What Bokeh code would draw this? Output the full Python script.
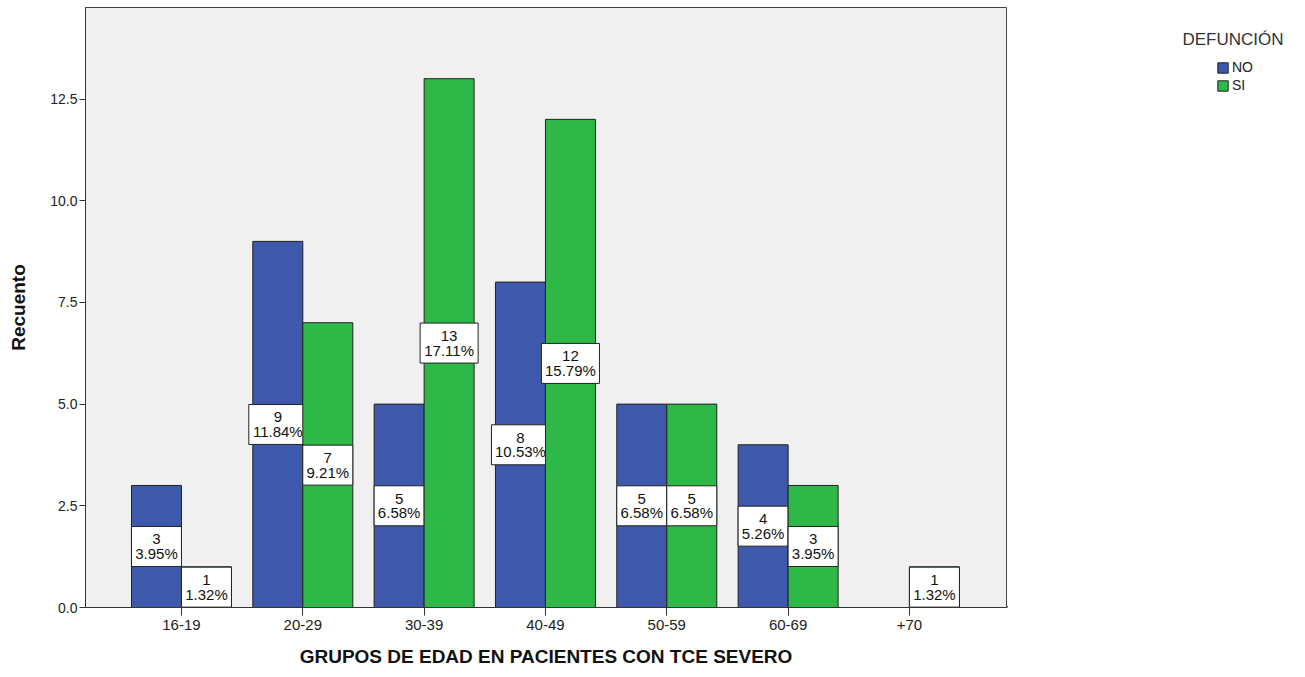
from bokeh.plotting import figure
from bokeh.layouts import row
from bokeh.models import (ColumnDataSource, FixedTicker, Legend, LegendItem, Label, Range1d)
from bokeh.core.properties import value
from bokeh.embed import file_html
from bokeh.resources import INLINE
import numpy as np

categories = ["16-19", "20-29", "30-39", "40-49", "50-59", "60-69", "+70"]
no_counts = [3, 9, 5, 8, 5, 4, 0]
si_counts = [1, 7, 13, 12, 5, 3, 1]
no_pct = ["3.95%", "11.84%", "6.58%", "10.53%", "6.58%", "5.26%", "0.00%"]
si_pct = ["1.32%", "9.21%", "17.11%", "15.79%", "6.58%", "3.95%", "1.32%"]
series_names = ["NO", "SI"]
colors = ["#3E58AC", "#2EB848"]
y_ticks = [0.0, 2.5, 5.0, 7.5, 10.0, 12.5]
legend_title = "DEFUNCIÓN"

FONT = "Liberation Sans"
BAR_W = 0.412
H = 669

p = figure(width=1007, height=H, output_backend="svg", toolbar_location=None,
           x_range=Range1d(-0.791, 6.80), y_range=Range1d(0, 14.75),
           min_border_left=85, min_border_right=1, min_border_top=7, min_border_bottom=60)
p.background_fill_color = "#F0F0F0"
p.border_fill_color = "white"
p.outline_line_color = "#444444"
p.outline_line_width = 1
p.xgrid.visible = False
p.ygrid.visible = False

idx = np.arange(len(categories))
for k, (counts, pcts) in enumerate([(no_counts, no_pct), (si_counts, si_pct)]):
    offs = -BAR_W / 2 if k == 0 else BAR_W / 2
    counts = np.array(counts)
    mask = counts > 0
    xs = (idx + offs)[mask]
    cs = counts[mask]
    ps = [pcts[i] for i in range(len(pcts)) if mask[i]]
    src = ColumnDataSource(dict(
        x=xs, top=cs, mid=cs / 2.0,
        cnt=[str(c) for c in cs], pct=ps,
        bw=[58 if len(s) >= 6 else 50 for s in ps],
    ))
    p.vbar(x="x", top="top", bottom=0, width=BAR_W, source=src,
           fill_color=colors[k], line_color="#222222", line_width=1)
    p.rect(x="x", y="mid", width="bw", height=40, width_units="screen", height_units="screen",
           source=src, fill_color="white", line_color="#222222", line_width=1)
    p.text(x="x", y="mid", text="cnt", source=src, y_offset=-7, text_align="center",
           text_baseline="middle", text_font=value(FONT), text_font_size="15px", text_color="#111111")
    p.text(x="x", y="mid", text="pct", source=src, y_offset=7, text_align="center",
           text_baseline="middle", text_font=value(FONT), text_font_size="15px", text_color="#111111")

# axes
p.xaxis.ticker = FixedTicker(ticks=list(range(len(categories))))
p.xaxis.major_label_overrides = {i: c for i, c in enumerate(categories)}
p.xaxis.minor_tick_line_color = None
p.xaxis.major_tick_out = 8
p.xaxis.major_tick_in = 0
p.xaxis.axis_line_color = "#333333"
p.xaxis.major_tick_line_color = "#333333"
p.xaxis.major_label_text_font = FONT
p.xaxis.major_label_text_font_size = "15px"
p.xaxis.major_label_text_color = "#222222"
p.xaxis.major_label_standoff = 4
p.xaxis.axis_label = "GRUPOS DE EDAD EN PACIENTES CON TCE SEVERO"
p.xaxis.axis_label_text_font = FONT
p.xaxis.axis_label_text_font_size = "19px"
p.xaxis.axis_label_text_font_style = "bold"
p.xaxis.axis_label_text_color = "#111111"
p.xaxis.axis_label_standoff = 13

p.yaxis.ticker = FixedTicker(ticks=y_ticks)
p.yaxis.major_label_overrides = {t: f"{t:.1f}" for t in y_ticks}
p.yaxis.minor_tick_line_color = None
p.yaxis.major_tick_out = 6
p.yaxis.major_tick_in = 0
p.yaxis.axis_line_color = "#333333"
p.yaxis.major_tick_line_color = "#333333"
p.yaxis.major_label_text_font = FONT
p.yaxis.major_label_text_font_size = "14px"
p.yaxis.major_label_text_color = "#222222"
p.yaxis.major_label_standoff = 2
p.yaxis.axis_label = "Recuento"
p.yaxis.axis_label_text_font = FONT
p.yaxis.axis_label_text_font_size = "19px"
p.yaxis.axis_label_text_font_style = "bold"
p.yaxis.axis_label_text_color = "#111111"
p.yaxis.axis_label_standoff = 18

# legend panel (separate figure to the right of the chart; frame aligned with chart)
lf = figure(width=290, height=H, output_backend="svg", toolbar_location=None,
            x_range=Range1d(0, 290), y_range=Range1d(0, 602),
            min_border_left=0, min_border_right=0, min_border_top=7, min_border_bottom=60,
            outline_line_color=None)
lf.axis.visible = False
lf.grid.visible = False
lf.background_fill_color = "white"
lf.border_fill_color = "white"
# proxy glyphs (placed outside the visible range) that only feed the legend swatches
lrs = [lf.vbar(x=[-1000], top=[1], width=1, fill_color=colors[i], line_color="#222222")
       for i in range(2)]
legend = Legend(items=[LegendItem(label=series_names[i], renderers=[lrs[i]]) for i in range(2)],
                location=(209, 514), orientation="vertical",
                glyph_width=13, glyph_height=13, spacing=2, padding=0, margin=0,
                label_standoff=3, label_text_font=FONT, label_text_font_size="14px",
                label_text_color="#222222", label_height=13,
                background_fill_alpha=0, border_line_color=None)
lf.add_layout(legend, "center")
lf.add_layout(Label(x=175, y=568, x_units="screen", y_units="screen", text=legend_title,
                    text_font=FONT, text_font_size="17px", text_color="#333333",
                    text_baseline="middle", text_align="left"))

open("out.html", "w").write(file_html(row(p, lf, spacing=0), INLINE))
